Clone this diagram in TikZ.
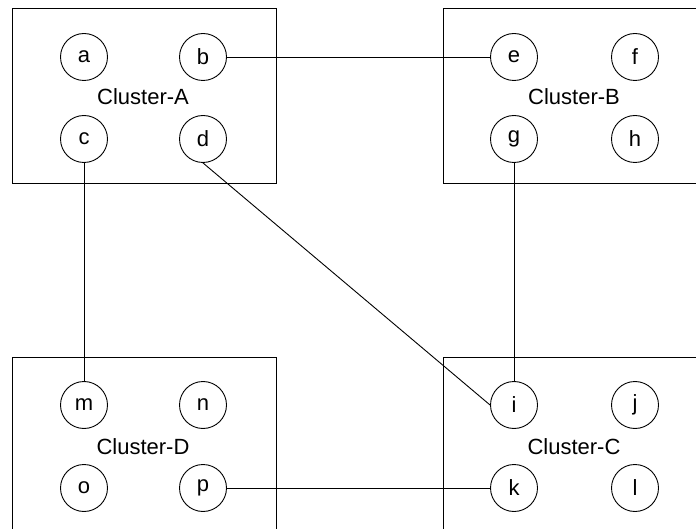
\documentclass[tikz,border=0pt]{standalone}
\usepackage{fontspec}
\setmainfont{Liberation Sans}
\begin{document}
\begin{tikzpicture}[x=1pt,y=-1pt,
  every node/.style={font=\fontsize{22}{26}\selectfont},
  vertex/.style={draw,circle,minimum size=47pt,inner sep=0pt,line width=0.9pt},
  clusterbox/.style={draw,line width=0.9pt},
  link/.style={line width=0.9pt}]
\useasboundingbox (0,0) rectangle (696,529);
\clip (0,0) rectangle (696,529);
% cluster frames
\draw[clusterbox] (12,8) rectangle (276,183);
\draw[clusterbox] (443,8) rectangle (710,183);
\draw[clusterbox] (12,357) rectangle (276,545);
\draw[clusterbox] (443,357) rectangle (710,545);
% cluster titles
\node (tA) at (143,97) {Cluster-A};
\node (tB) at (574,97) {Cluster-B};
\node (tD) at (143,447) {Cluster-D};
\node (tC) at (574,447) {Cluster-C};
% Cluster-A
\node[vertex] (a) at (84,57) {a};
\node[vertex] (b) at (203,57) {b};
\node[vertex] (c) at (84,139) {c};
\node[vertex] (d) at (203,139) {d};
% Cluster-B
\node[vertex] (e) at (514,57) {e};
\node[vertex] (f) at (635,57) {f};
\node[vertex] (g) at (514,139) {g};
\node[vertex] (h) at (635,139) {h};
% Cluster-D
\node[vertex] (m) at (84,405) {m};
\node[vertex] (n) at (203,405) {n};
\node[vertex] (o) at (84,488) {o};
\node[vertex] (p) at (203,488) {p};
% Cluster-C
\node[vertex] (i) at (514,405) {i};
\node[vertex] (j) at (635,405) {j};
\node[vertex] (k) at (514,488) {k};
\node[vertex] (l) at (635,488) {l};
% inter-cluster links
\draw[link] (b.east) -- (e.west);
\draw[link] (c.south) -- (m.north);
\draw[link] (g.south) -- (i.north);
\draw[link] (d.south) -- (i.west);
\draw[link] (p.east) -- (k.west);
\end{tikzpicture}
\end{document}
